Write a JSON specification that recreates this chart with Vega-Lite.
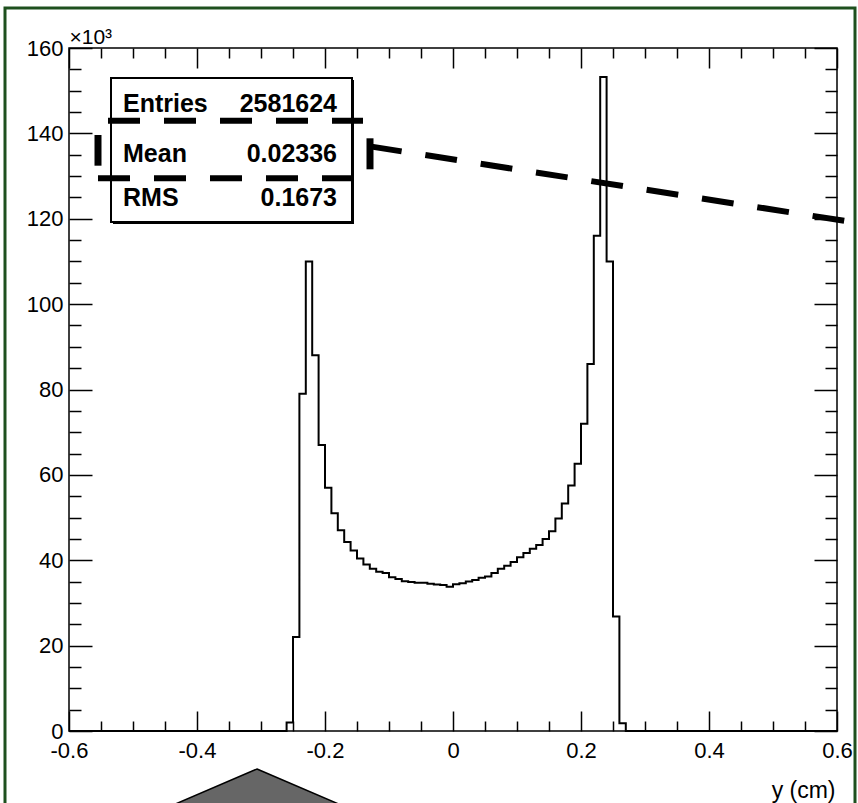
{
  "$schema": "https://vega.github.io/schema/vega-lite/v6.json",
  "width": 768,
  "height": 683,
  "autosize": "none",
  "padding": {"left": 69, "top": 48, "right": 21, "bottom": 72},
  "background": "white",
  "config": {
    "view": {"stroke": "black", "strokeWidth": 1.5},
    "font": "Liberation Sans",
    "axis": {
      "labelFont": "Liberation Sans",
      "titleFont": "Liberation Sans",
      "labelColor": "black",
      "titleColor": "black",
      "tickColor": "black",
      "tickWidth": 1.5,
      "domain": false,
      "grid": false,
      "labelFontSize": 22,
      "titleFontWeight": "normal",
      "labelFlush": false,
      "labelOverlap": false,
      "labelBound": false
    }
  },
  "layer": [
    {
      "data": {"values": [{}]},
      "mark": {"type": "rect", "filled": false, "color": "#1e501e", "strokeWidth": 3, "opacity": 1},
      "encoding": {
        "x": {"datum": -0.7, "type": "quantitative", "axis": null, "scale": {"domain": [-0.6, 0.6], "nice": false, "zero": false}},
        "x2": {"datum": 0.628125},
        "y": {"datum": 169370, "type": "quantitative", "axis": null, "scale": {"domain": [0, 160000], "nice": false, "zero": false}},
        "y2": {"datum": -19678}
      }
    },
    {
      "data": {"values": [
        {"y_cm": -0.6, "entries": 0},
        {"y_cm": -0.26, "entries": 2000},
        {"y_cm": -0.25, "entries": 22000},
        {"y_cm": -0.24, "entries": 79000},
        {"y_cm": -0.23, "entries": 110000},
        {"y_cm": -0.22, "entries": 88000},
        {"y_cm": -0.21, "entries": 67000},
        {"y_cm": -0.20, "entries": 57000},
        {"y_cm": -0.19, "entries": 51000},
        {"y_cm": -0.18, "entries": 47000},
        {"y_cm": -0.17, "entries": 44300},
        {"y_cm": -0.16, "entries": 42300},
        {"y_cm": -0.15, "entries": 40400},
        {"y_cm": -0.14, "entries": 39000},
        {"y_cm": -0.13, "entries": 38000},
        {"y_cm": -0.12, "entries": 37300},
        {"y_cm": -0.11, "entries": 37000},
        {"y_cm": -0.10, "entries": 36000},
        {"y_cm": -0.09, "entries": 35600},
        {"y_cm": -0.08, "entries": 35100},
        {"y_cm": -0.07, "entries": 34900},
        {"y_cm": -0.06, "entries": 34700},
        {"y_cm": -0.05, "entries": 34700},
        {"y_cm": -0.04, "entries": 34500},
        {"y_cm": -0.03, "entries": 34300},
        {"y_cm": -0.02, "entries": 34200},
        {"y_cm": -0.01, "entries": 33800},
        {"y_cm": 0.00, "entries": 34400},
        {"y_cm": 0.01, "entries": 34600},
        {"y_cm": 0.02, "entries": 35000},
        {"y_cm": 0.03, "entries": 35400},
        {"y_cm": 0.04, "entries": 35900},
        {"y_cm": 0.05, "entries": 36200},
        {"y_cm": 0.06, "entries": 37000},
        {"y_cm": 0.07, "entries": 38000},
        {"y_cm": 0.08, "entries": 38700},
        {"y_cm": 0.09, "entries": 39600},
        {"y_cm": 0.10, "entries": 40700},
        {"y_cm": 0.11, "entries": 41700},
        {"y_cm": 0.12, "entries": 42700},
        {"y_cm": 0.13, "entries": 43600},
        {"y_cm": 0.14, "entries": 45000},
        {"y_cm": 0.15, "entries": 46800},
        {"y_cm": 0.16, "entries": 49800},
        {"y_cm": 0.17, "entries": 53300},
        {"y_cm": 0.18, "entries": 57500},
        {"y_cm": 0.19, "entries": 62600},
        {"y_cm": 0.20, "entries": 72000},
        {"y_cm": 0.21, "entries": 86000},
        {"y_cm": 0.22, "entries": 116000},
        {"y_cm": 0.23, "entries": 153200},
        {"y_cm": 0.24, "entries": 110000},
        {"y_cm": 0.25, "entries": 26800},
        {"y_cm": 0.26, "entries": 1800},
        {"y_cm": 0.27, "entries": 0},
        {"y_cm": 0.6, "entries": 0}
      ]},
      "mark": {"type": "line", "interpolate": "step-after", "color": "black", "strokeWidth": 2},
      "encoding": {
        "x": {
          "field": "y_cm", "type": "quantitative",
          "scale": {"domain": [-0.6, 0.6], "nice": false, "zero": false},
          "axis": {
            "orient": "bottom",
            "values": [-0.6, -0.55, -0.5, -0.45, -0.4, -0.35, -0.3, -0.25, -0.2, -0.15, -0.1, -0.05, 0, 0.05, 0.1, 0.15, 0.2, 0.25, 0.3, 0.35, 0.4, 0.45, 0.5, 0.55, 0.6],
            "tickSize": {"condition": {"test": "abs(datum.value*5 - round(datum.value*5)) < 0.001", "value": -20}, "value": -10},
            "labelExpr": "abs(datum.value*5 - round(datum.value*5)) < 0.001 ? '' + datum.value : ''",
            "labelPadding": 29,
            "title": "y (cm)",
            "titleFontSize": 23,
            "titleAlign": "right",
            "titleBaseline": "alphabetic",
            "titleX": 766,
            "titleY": 66
          }
        },
        "y": {
          "field": "entries", "type": "quantitative",
          "scale": {"domain": [0, 160000], "nice": false, "zero": false},
          "axis": {
            "orient": "left",
            "values": [0, 5000, 10000, 15000, 20000, 25000, 30000, 35000, 40000, 45000, 50000, 55000, 60000, 65000, 70000, 75000, 80000, 85000, 90000, 95000, 100000, 105000, 110000, 115000, 120000, 125000, 130000, 135000, 140000, 145000, 150000, 155000, 160000],
            "tickSize": {"condition": {"test": "datum.value % 20000 === 0", "value": -23}, "value": -12},
            "labelExpr": "datum.value % 20000 === 0 ? '' + datum.value / 1000 : ''",
            "labelPadding": 29,
            "title": "×10³",
            "titleFontSize": 21,
            "titleAngle": 0,
            "titleAlign": "left",
            "titleBaseline": "alphabetic",
            "titleX": 0,
            "titleY": -5
          }
        }
      }
    },
    {
      "data": {"values": [{}]},
      "mark": {"type": "rect", "color": "black", "opacity": 1},
      "encoding": {
        "x": {"datum": -0.53125, "type": "quantitative", "axis": null},
        "x2": {"datum": -0.154688},
        "y": {"datum": 152503, "type": "quantitative", "axis": null},
        "y2": {"datum": 118769}
      }
    },
    {
      "data": {"values": [{}]},
      "mark": {"type": "rect", "fill": "white", "stroke": "black", "strokeWidth": 2, "opacity": 1},
      "encoding": {
        "x": {
          "datum": -0.534375, "type": "quantitative",
          "axis": {
            "orient": "top",
            "values": [-0.6, -0.55, -0.5, -0.45, -0.4, -0.35, -0.3, -0.25, -0.2, -0.15, -0.1, -0.05, 0, 0.05, 0.1, 0.15, 0.2, 0.25, 0.3, 0.35, 0.4, 0.45, 0.5, 0.55, 0.6],
            "tickSize": {"condition": {"test": "abs(datum.value*5 - round(datum.value*5)) < 0.001", "value": -20}, "value": -10},
            "labels": false,
            "title": null
          }
        },
        "x2": {"datum": -0.157813},
        "y": {
          "datum": 152972, "type": "quantitative",
          "axis": {
            "orient": "right",
            "values": [0, 5000, 10000, 15000, 20000, 25000, 30000, 35000, 40000, 45000, 50000, 55000, 60000, 65000, 70000, 75000, 80000, 85000, 90000, 95000, 100000, 105000, 110000, 115000, 120000, 125000, 130000, 135000, 140000, 145000, 150000, 155000, 160000],
            "tickSize": {"condition": {"test": "datum.value % 20000 === 0", "value": -23}, "value": -12},
            "labels": false,
            "title": null
          }
        },
        "y2": {"datum": 119238}
      }
    },
    {
      "data": {"values": [{}]},
      "mark": {"type": "text", "text": "Entries", "align": "left", "baseline": "alphabetic", "font": "Liberation Sans", "fontWeight": "bold", "fontSize": 25, "color": "black"},
      "encoding": {"x": {"datum": -0.515625, "type": "quantitative", "axis": null}, "y": {"datum": 145007, "type": "quantitative", "axis": null}}
    },
    {
      "data": {"values": [{}]},
      "mark": {"type": "text", "text": "2581624", "align": "right", "baseline": "alphabetic", "font": "Liberation Sans", "fontWeight": "bold", "fontSize": 25, "color": "black"},
      "encoding": {"x": {"datum": -0.18125, "type": "quantitative", "axis": null}, "y": {"datum": 145007, "type": "quantitative", "axis": null}}
    },
    {
      "data": {"values": [{}]},
      "mark": {"type": "text", "text": "Mean", "align": "left", "baseline": "alphabetic", "font": "Liberation Sans", "fontWeight": "bold", "fontSize": 25, "color": "black"},
      "encoding": {"x": {"datum": -0.515625, "type": "quantitative", "axis": null}, "y": {"datum": 133298, "type": "quantitative", "axis": null}}
    },
    {
      "data": {"values": [{}]},
      "mark": {"type": "text", "text": "0.02336", "align": "right", "baseline": "alphabetic", "font": "Liberation Sans", "fontWeight": "bold", "fontSize": 25, "color": "black"},
      "encoding": {"x": {"datum": -0.18125, "type": "quantitative", "axis": null}, "y": {"datum": 133298, "type": "quantitative", "axis": null}}
    },
    {
      "data": {"values": [{}]},
      "mark": {"type": "text", "text": "RMS", "align": "left", "baseline": "alphabetic", "font": "Liberation Sans", "fontWeight": "bold", "fontSize": 25, "color": "black"},
      "encoding": {"x": {"datum": -0.515625, "type": "quantitative", "axis": null}, "y": {"datum": 122987, "type": "quantitative", "axis": null}}
    },
    {
      "data": {"values": [{}]},
      "mark": {"type": "text", "text": "0.1673", "align": "right", "baseline": "alphabetic", "font": "Liberation Sans", "fontWeight": "bold", "fontSize": 25, "color": "black"},
      "encoding": {"x": {"datum": -0.18125, "type": "quantitative", "axis": null}, "y": {"datum": 122987, "type": "quantitative", "axis": null}}
    },
    {
      "data": {"values": [{}]},
      "mark": {"type": "rule", "color": "black", "strokeWidth": 6, "strokeDash": [32, 24], "strokeCap": "butt"},
      "encoding": {
        "x": {"datum": -0.539063, "type": "quantitative", "axis": null},
        "x2": {"datum": -0.140625},
        "y": {"datum": 142970, "type": "quantitative", "axis": null}
      }
    },
    {
      "data": {"values": [{}]},
      "mark": {"type": "rule", "color": "black", "strokeWidth": 6, "strokeDash": [32, 24], "strokeCap": "butt"},
      "encoding": {
        "x": {"datum": -0.554688, "type": "quantitative", "axis": null},
        "x2": {"datum": -0.15625},
        "y": {"datum": 129476, "type": "quantitative", "axis": null}
      }
    },
    {
      "data": {"values": [{}]},
      "mark": {"type": "rule", "color": "black", "strokeWidth": 7, "strokeCap": "butt"},
      "encoding": {
        "x": {"datum": -0.554688, "type": "quantitative", "axis": null},
        "y": {"datum": 139619, "type": "quantitative", "axis": null},
        "y2": {"datum": 132429}
      }
    },
    {
      "data": {"values": [{}]},
      "mark": {"type": "rule", "color": "black", "strokeWidth": 7, "strokeCap": "butt"},
      "encoding": {
        "x": {"datum": -0.129688, "type": "quantitative", "axis": null},
        "y": {"datum": 138846, "type": "quantitative", "axis": null},
        "y2": {"datum": 131584}
      }
    },
    {
      "data": {"values": [{}]},
      "mark": {"type": "rule", "color": "black", "strokeWidth": 6, "strokeDash": [32, 24], "strokeCap": "butt"},
      "encoding": {
        "x": {"datum": -0.129688, "type": "quantitative", "axis": null},
        "x2": {"datum": 0.639063},
        "y": {"datum": 136950, "type": "quantitative", "axis": null},
        "y2": {"datum": 118864}
      }
    },
    {
      "data": {"values": [{}]},
      "mark": {"type": "point", "shape": "M0,-1L1,-0.571L1,1L-1,1L-1,-0.571Z", "filled": true, "fill": "#666666", "stroke": "black", "strokeWidth": 1.5, "size": 38416, "opacity": 1},
      "encoding": {
        "x": {"datum": -0.30625, "type": "quantitative", "axis": null},
        "y": {"datum": -31859, "type": "quantitative", "axis": null}
      }
    }
  ],
  "resolve": {"axis": {"x": "independent", "y": "independent"}}
}
